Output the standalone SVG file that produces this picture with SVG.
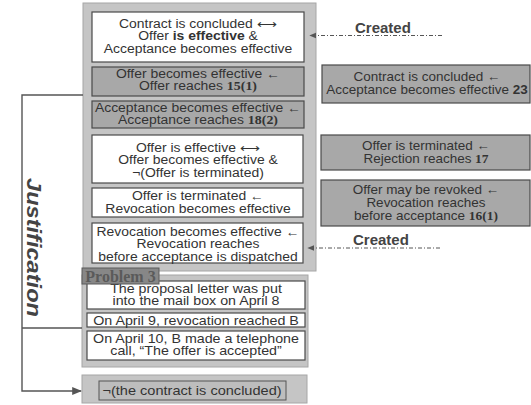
<svg xmlns="http://www.w3.org/2000/svg" width="531" height="405" viewBox="0 0 531 405">
<defs>
<style>
.panel{fill:#c5c5c5;stroke:#a6a6a6;stroke-width:1}
.wbox{fill:#ffffff;stroke:#4a4a4a;stroke-width:1.2}
.gbox{fill:#a8a8a8;stroke:#4a4a4a;stroke-width:1.2}
.t{font-family:"Liberation Sans",Arial,sans-serif;font-size:12px;fill:#333;text-anchor:middle}
.t13{font-size:13px}
.t125{font-size:12.5px}
.b{font-weight:bold}
.n{font-family:"Liberation Serif","Times New Roman",serif;font-weight:bold}
.cr{font-family:"Liberation Sans",Arial,sans-serif;font-size:15px;font-weight:bold;fill:#444}
.line{stroke:#555;stroke-width:1.4;fill:none}
.dash{stroke:#555;stroke-width:1;fill:none;stroke-dasharray:4 2 1 2}
</style>
<marker id="ah" viewBox="0 0 10 10" refX="9" refY="5" markerWidth="7" markerHeight="7" orient="auto-start-reverse">
<path d="M0,1 L10,5 L0,9 z" fill="#555"/>
</marker>
</defs>
<rect width="531" height="405" fill="#ffffff"/>

<g id="main-panel">
<rect class="panel" x="83" y="3" width="233" height="268"/>
</g>

<g id="n1">
<rect class="wbox" x="92" y="12" width="212" height="50"/>
<g transform="translate(198 0) scale(1.16 1)">
<text class="t" x="0" y="28">Contract is concluded ⟷</text>
<text class="t" x="0" y="40.5">Offer <tspan class="b">is effective</tspan> &amp;</text>
<text class="t" x="0" y="53">Acceptance becomes effective</text>
</g>
</g>
<g id="n2">
<rect class="gbox" x="92" y="67" width="212" height="29"/>
<g transform="translate(198 0) scale(1.16 1)">
<text class="t" x="0" y="78">Offer becomes effective ←</text>
<text class="t" x="0" y="90.5">Offer reaches <tspan class="n">15(1)</tspan></text>
</g>
</g>
<g id="n3">
<rect class="gbox" x="92" y="101" width="212" height="27"/>
<g transform="translate(198 0) scale(1.16 1)">
<text class="t" x="0" y="112">Acceptance becomes effective ←</text>
<text class="t" x="0" y="124.5">Acceptance reaches <tspan class="n">18(2)</tspan></text>
</g>
</g>
<g id="n4">
<rect class="wbox" x="92" y="135" width="211" height="48"/>
<g transform="translate(198 0) scale(1.16 1)">
<text class="t" x="0" y="152">Offer is effective ⟷</text>
<text class="t" x="0" y="164.5">Offer becomes effective &amp;</text>
<text class="t" x="0" y="177">¬(Offer is terminated)</text>
</g>
</g>
<g id="n5">
<rect class="wbox" x="92" y="188" width="211" height="29"/>
<g transform="translate(198 0) scale(1.16 1)">
<text class="t" x="0" y="200.5">Offer is terminated ←</text>
<text class="t" x="0" y="213">Revocation becomes effective</text>
</g>
</g>
<g id="n6">
<rect class="wbox" x="92" y="223" width="211" height="40"/>
<g transform="translate(198 0) scale(1.16 1)">
<text class="t" x="0" y="236">Revocation becomes effective ←</text>
<text class="t" x="0" y="248.5">Revocation reaches</text>
<text class="t" x="0" y="261">before acceptance is dispatched</text>
</g>
</g>

<g id="problem-panel">
<rect class="panel" x="82" y="275" width="226" height="92"/>
</g>
<g id="p1">
<rect class="wbox" x="87" y="281" width="218" height="28"/>
<g transform="translate(196 0) scale(1.14 1)">
<text class="t t125" x="0" y="293">The proposal letter was put</text>
<text class="t t125" x="0" y="305.5">into the mail box on April 8</text>
</g>
</g>
<g id="p2">
<rect class="wbox" x="87" y="313" width="218" height="14"/>
<g transform="translate(196 0) scale(1.1 1)">
<text class="t t13" x="0" y="325">On April 9, revocation reached B</text>
</g>
</g>
<g id="p3">
<rect class="wbox" x="87" y="331" width="218" height="29"/>
<g transform="translate(196 0) scale(1.14 1)">
<text class="t t125" x="0" y="343">On April 10, B made a telephone</text>
<text class="t t125" x="0" y="355.5">call, “The offer is accepted”</text>
</g>
</g>
<g id="problem-label">
<rect x="82" y="268" width="77" height="16" fill="#878787" stroke="#5a5a5a" stroke-width="1"/>
<text x="120.5" y="281.5" text-anchor="middle" font-family="Liberation Serif,'Times New Roman',serif" font-weight="bold" font-size="16" fill="#5a5a5a">Problem 3</text>
</g>

<g id="conclusion">
<rect class="panel" x="82" y="375" width="225" height="28"/>
<rect x="99" y="381" width="187" height="19" fill="#bdbdbd" stroke="#555" stroke-width="1"/>
<g transform="translate(192 0) scale(1.12 1)">
<text class="t t13" x="0" y="395.5">¬(the contract is concluded)</text>
</g>
</g>

<g id="r1">
<rect class="gbox" x="322" y="65" width="208" height="38"/>
<g transform="translate(427 0) scale(1.08 1)">
<text class="t t125" x="0" y="81">Contract is concluded ←</text>
<text class="t t125" x="0" y="94.5">Acceptance becomes effective <tspan class="b">23</tspan></text>
</g>
</g>
<g id="r2">
<rect class="gbox" x="321" y="135" width="209" height="35"/>
<g transform="translate(426 0) scale(1.08 1)">
<text class="t t125" x="0" y="150">Offer is terminated ←</text>
<text class="t t125" x="0" y="163">Rejection reaches <tspan class="n">17</tspan></text>
</g>
</g>
<g id="r3">
<rect class="gbox" x="321" y="180" width="209" height="46"/>
<g transform="translate(426 0) scale(1.08 1)">
<text class="t t125" x="0" y="194">Offer may be revoked ←</text>
<text class="t t125" x="0" y="207">Revocation reaches</text>
<text class="t t125" x="0" y="220">before acceptance <tspan class="n">16(1)</tspan></text>
</g>
</g>
<g id="created1">
<text class="cr" x="355" y="33">Created</text>
</g>
<g id="created2">
<text class="cr" x="353" y="245">Created</text>
</g>
<g id="justification">
<text transform="translate(27,178) rotate(90)" font-family="Liberation Sans,Arial,sans-serif" font-size="21" font-weight="bold" font-style="italic" fill="#444" textLength="139" lengthAdjust="spacingAndGlyphs">Justification</text>
</g>

<g id="connectors">
<path class="dash" d="M442,35.5 H310" marker-end="url(#ah)"/>
<path class="dash" d="M440,248 H308" marker-end="url(#ah)"/>
<path class="line" d="M83,95 H22 V391 H81" marker-end="url(#ah)"/>
<path class="line" d="M22,328 H82"/>
</g>
</svg>
